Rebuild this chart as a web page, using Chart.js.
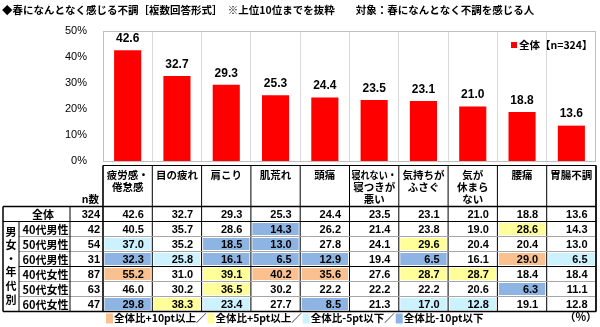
<!DOCTYPE html>
<html><head><meta charset="utf-8">
<script src="https://cdn.jsdelivr.net/npm/chart.js@4/dist/chart.umd.min.js"></script>
<style>html,body{margin:0;padding:0;background:#fff;}#wrap{width:600px;height:327px;position:relative;}</style>
</head><body><div id="wrap"><canvas id="c" width="600" height="327"></canvas></div>
<script>
const titleText = '◆春になんとなく感じる不調［複数回答形式］　※上位10位までを抜粋　　対象：春になんとなく不調を感じる人';
const categories = [['疲労感・','倦怠感'],['目の疲れ'],['肩こり'],['肌荒れ'],['頭痛'],['寝れない・','寝つきが','悪い'],['気持ちが','ふさぐ'],['気が','休まら','ない'],['腰痛'],['胃腸不調']];
const seriesLabel = '全体【n=324】';
const totalValues = [42.6,32.7,29.3,25.3,24.4,23.5,23.1,21.0,18.8,13.6];
const yTicks = [0,10,20,30,40,50];
const groupLabel = ['男','女','・','年','代','別'];
const rowLabels = ['全体','40代男性','50代男性','60代男性','40代女性','50代女性','60代女性'];
const rowN = [324,42,54,31,87,63,47];
const male40 = [40.5,35.7,28.6,14.3,26.2,21.4,23.8,19.0,28.6,14.3];
const male50 = [37.0,35.2,18.5,13.0,27.8,24.1,29.6,20.4,20.4,13.0];
const male60 = [32.3,25.8,16.1,6.5,12.9,19.4,6.5,16.1,29.0,6.5];
const female40 = [55.2,31.0,39.1,40.2,35.6,27.6,28.7,28.7,18.4,18.4];
const female50 = [46.0,30.2,36.5,30.2,22.2,22.2,22.2,20.6,6.3,11.1];
const female60 = [29.8,38.3,23.4,27.7,8.5,21.3,17.0,12.8,19.1,12.8];
const tableRows = [totalValues, male40, male50, male60, female40, female50, female60];
const legendLabels = ['全体比+10pt以上／','全体比+5pt以上／','全体比-5pt以下／','全体比-10pt以下'];
const legendColors = ['#FAC090','#FFFF99','#CCF2FF','#8DB4E2'];
const unitLabel = '（%）';

const JP = '"Noto Sans CJK JP", "Noto Sans", sans-serif';
const NUM = '"Liberation Sans", Arial, sans-serif';

function cellColor(v, base){
  const d = v - base;
  if (d >= 10) return legendColors[0];
  if (d >= 5) return legendColors[1];
  if (d <= -10) return legendColors[3];
  if (d <= -5) return legendColors[2];
  return null;
}

const tablePlugin = {
  id:'table',
  beforeDatasetsDraw(chart){
    const {ctx, chartArea:ca} = chart;
    ctx.save();
    ctx.strokeStyle = '#BFBFBF'; ctx.lineWidth = 1;
    ctx.strokeRect(ca.left+0.5, ca.top+0.5, ca.right-ca.left-1, ca.bottom-ca.top);
    ctx.restore();
  },
  afterDraw(chart){
    const {ctx, chartArea:ca} = chart;
    const xs = chart.scales.x, ys = chart.scales.y;
    const edge = i => xs.getPixelForValue(i - 0.5);
    ctx.save();
    // title
    ctx.fillStyle = '#000';
    ctx.textBaseline = 'middle';
    ctx.textAlign = 'left';
    ctx.font = 'bold 10.5px ' + JP;
    ctx.fillText(titleText, 2, 10);
    // bar value labels
    ctx.textAlign = 'center';
    ctx.font = 'bold 12px ' + NUM;
    totalValues.forEach((v,i)=>{
      ctx.fillText(v.toFixed(1), xs.getPixelForValue(i), ys.getPixelForValue(v) - 11.5);
    });
    // in-chart legend
    ctx.fillStyle = '#FF0000';
    ctx.fillRect(511, 42, 6, 6);
    ctx.fillStyle = '#000';
    ctx.textAlign = 'left';
    ctx.font = 'bold 10.5px ' + JP;
    ctx.fillText(seriesLabel, 519, 45.5);

    // table geometry
    const hTop = ca.bottom + 4.5, hBot = hTop + 41, rh = 15;
    const xA = 3, xB = 19, xC = 70, xD = ca.left, xE = edge(10);
    const rowTop = r => hBot + r*rh;
    const tBot = rowTop(rowLabels.length);
    // fills
    tableRows.forEach((row, r)=>{
      if (r===0) return;
      row.forEach((v,i)=>{
        const c = cellColor(v, totalValues[i]);
        if (c){
          ctx.fillStyle = c;
          ctx.fillRect(edge(i)+1.5, rowTop(r)+1.5, edge(i+1)-edge(i)-3, rh-3);
        }
      });
    });
    // header text
    ctx.fillStyle = '#000';
    ctx.textAlign = 'center';
    ctx.font = 'bold 10.5px ' + JP;
    categories.forEach((lines,i)=>{
      const cx = (edge(i)+edge(i+1))/2;
      const w = edge(i+1)-edge(i)-4;
      lines.forEach((t,k)=> ctx.fillText(t, cx, hTop + 9.5 + k*12, w));
    });
    ctx.textAlign = 'right';
    ctx.fillText('n数', xD - 4, hBot - 7);
    // rows
    rowLabels.forEach((lab, r)=>{
      const cy = rowTop(r) + rh/2 + 0.5;
      ctx.font = 'bold 11px ' + JP;
      if (r===0){ ctx.textAlign='center'; ctx.fillText(lab, 43, cy); }
      else { ctx.textAlign='left'; ctx.fillText(lab, 22.5, cy); }
      ctx.textAlign = 'right';
      ctx.font = 'bold 11px ' + NUM;
      ctx.fillText(String(rowN[r]), xD - 3, cy);
      tableRows[r].forEach((v,i)=> ctx.fillText(v.toFixed(1), edge(i+1) - 8.5, cy));
    });
    // group vertical label
    ctx.textAlign = 'center';
    ctx.font = 'bold 11px ' + JP;
    groupLabel.forEach((ch,k)=> ctx.fillText(ch, 11, rowTop(1) + 10 + k*13.6));

    // lines
    const line = (x1,y1,x2,y2,col,w)=>{ ctx.strokeStyle=col; ctx.lineWidth=w; ctx.beginPath(); ctx.moveTo(x1,y1); ctx.lineTo(x2,y2); ctx.stroke(); };
    const dark = '#000', grey = '#A6A6A6';
    line(xD, hTop, xE, hTop, dark, 1);
    for (let i=0;i<=10;i++) line(edge(i), hTop, edge(i), tBot, dark, 1);
    [2,3,5,6].forEach(r=> line(xB, rowTop(r), xE, rowTop(r), grey, 1));
    line(xA, rowTop(0), xE, rowTop(0), dark, 1.5);
    line(xA, rowTop(1), xE, rowTop(1), dark, 1.2);
    line(xB, rowTop(4), xE, rowTop(4), dark, 1.2);
    line(xA, tBot, xE, tBot, dark, 1.5);
    line(xA, rowTop(0), xA, tBot, dark, 1.5);
    line(xE, hTop, xE, tBot, dark, 1.5);
    line(xB, rowTop(1), xB, tBot, dark, 1);
    line(xC, rowTop(0), xC, tBot, dark, 1);
    line(xD, hTop, xD, tBot, dark, 1.2);

    // bottom legend
    let x = 106; const ly = 318.5;
    ctx.textAlign = 'left';
    ctx.font = 'bold 10.5px ' + JP;
    legendLabels.forEach((t,k)=>{
      ctx.fillStyle = legendColors[k];
      ctx.fillRect(x, ly-5, 7, 10);
      x += 8;
      ctx.fillStyle = '#000';
      ctx.fillText(t, x, ly);
      x += ctx.measureText(t).width + 1;
    });
    ctx.textAlign = 'right';
    ctx.font = 'bold 11px ' + JP;
    ctx.fillText(unitLabel, 597, ly - 2);
    ctx.restore();
  }
};

new Chart(document.getElementById('c').getContext('2d'), {
  type:'bar',
  data:{
    labels: categories.map(c=>c.join('')),
    datasets:[{label: seriesLabel, data: totalValues, backgroundColor:'#FF0000', barPercentage:0.55, categoryPercentage:1}]
  },
  options:{
    responsive:false, animation:false,
    layout:{padding:{left:0, right:4, top:31, bottom:166}},
    plugins:{legend:{display:false}, tooltip:{enabled:false}, title:{display:false}},
    scales:{
      x:{
        grid:{offset:true, color:'#D9D9D9', drawTicks:false},
        border:{display:false},
        ticks:{display:false},
        afterFit(s){ s.height = 0; }
      },
      y:{
        min:0, max:50,
        afterBuildTicks(s){ s.ticks = yTicks.map(v=>({value:v})); },
        ticks:{callback:v=>v+'%', color:'#000', padding:8, font:{family:NUM, size:11}},
        grid:{display:false},
        border:{display:true, color:'#BFBFBF'},
        afterFit(s){ s.width = 103; }
      }
    }
  },
  plugins:[tablePlugin]
});
</script></body></html>
